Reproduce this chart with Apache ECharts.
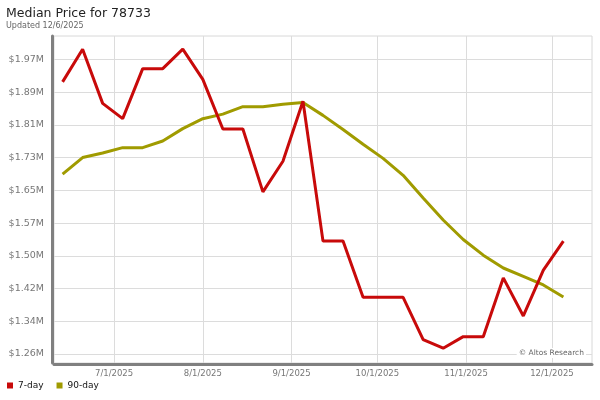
<!DOCTYPE html>
<html>
<head>
<meta charset="utf-8">
<script src="https://cdn.jsdelivr.net/npm/echarts@6/dist/echarts.min.js"></script>
<style>
html,body{margin:0;padding:0;background:#fff;}
#chart{width:600px;height:400px;}
</style>
</head>
<body>
<div id="chart"></div>
<script>
// ---- data ----
const dates = ['2025-06-13','2025-06-20','2025-06-27','2025-07-04','2025-07-11','2025-07-18','2025-07-25',
  '2025-08-01','2025-08-08','2025-08-15','2025-08-22','2025-08-29','2025-09-05','2025-09-12','2025-09-19',
  '2025-09-26','2025-10-03','2025-10-10','2025-10-17','2025-10-24','2025-10-31','2025-11-07','2025-11-14',
  '2025-11-21','2025-11-28','2025-12-05'];
const sevenDay = [1916000,1995000,1864000,1827000,1948000,1948000,1995000,1922000,1802000,1802000,1650000,
  1724000,1869000,1531000,1531000,1395000,1395000,1395000,1293000,1272000,1300000,1300000,1442000,1350000,
  1461000,1531000];
const ninetyDay = [1693000,1733000,1744000,1757000,1757000,1773000,1803000,1827000,1838000,1856000,1856000,
  1862000,1866000,1835000,1801000,1765000,1731000,1690000,1635000,1582000,1535000,1497000,1466000,1446000,
  1425000,1396000];
const yTickValues = [1258000,1337100,1416200,1495300,1574400,1653500,1732600,1811700,1890800,1969900];
const yTickLabels = ['$1.26M','$1.34M','$1.42M','$1.50M','$1.57M','$1.65M','$1.73M','$1.81M','$1.89M','$1.97M'];
const xTickDates = ['2025-07-01','2025-08-01','2025-09-01','2025-10-01','2025-11-01','2025-12-01'];
const xTickLabels = ['7/1/2025','8/1/2025','9/1/2025','10/1/2025','11/1/2025','12/1/2025'];
const seriesNames = ['7-day','90-day'];

function toTs(s){ const p = s.split('-').map(Number); return Date.UTC(p[0], p[1]-1, p[2]); }
const xTickTs = xTickDates.map(toTs);

function nearestLabel(v, vals, labels){
  let best=0, bd=Infinity;
  vals.forEach((t,i)=>{const d=Math.abs(t-v); if(d<bd){bd=d;best=i;}});
  return labels[best];
}

const chart = echarts.init(document.getElementById('chart'), null, {renderer:'canvas'});
const FONT = 'DejaVu Sans';
chart.setOption({
  animation:false,
  backgroundColor:'#fff',
  textStyle:{fontFamily:FONT},
  title:{
    text:'Median Price for 78733',
    subtext:'Updated 12/6/2025',
    left:6, top:7, padding:0, itemGap:2,
    textStyle:{fontFamily:FONT, fontSize:12.5, fontWeight:'normal', color:'#222'},
    subtextStyle:{fontFamily:FONT, fontSize:8, color:'#666'}
  },
  legend:{
    left:7, top:381, padding:0,
    icon:'rect', itemWidth:6, itemHeight:6, itemGap:13,
    textStyle:{fontFamily:FONT, fontSize:9, color:'#111'},
    data:seriesNames
  },
  grid:{left:54, right:8, top:36, bottom:37, show:true, borderColor:'#d8d8d8', borderWidth:1},
  xAxis:{
    type:'value',
    min:toTs('2025-06-10'), max:toTs('2025-12-15'),
    axisLine:{show:true, onZero:false, lineStyle:{color:'#808080', width:3}},
    offset:1,
    axisTick:{show:false, customValues:xTickTs},
    axisLabel:{customValues:xTickTs, color:'#777', fontSize:8.5, fontFamily:FONT, margin:5,
      formatter:function(v){ return nearestLabel(v, xTickTs, xTickLabels); }},
    splitLine:{show:true, lineStyle:{color:'#dcdcdc', width:1}}
  },
  yAxis:{
    type:'value',
    min:1236300, max:2026900,
    offset:2,
    axisLine:{show:true, onZero:false, lineStyle:{color:'#808080', width:3}},
    axisTick:{show:false, customValues:yTickValues},
    axisLabel:{customValues:yTickValues, color:'#777', fontSize:9.5, fontFamily:FONT, margin:8,
      formatter:function(v){ return nearestLabel(v, yTickValues, yTickLabels); }},
    splitLine:{show:true, lineStyle:{color:'#dcdcdc', width:1}}
  },
  series:[
    {name:seriesNames[0], type:'line', data:dates.map((d,i)=>[toTs(d), sevenDay[i]]),
      symbol:'none', color:'#c80a0a', lineStyle:{width:3, color:'#c80a0a'}, z:3},
    {name:seriesNames[1], type:'line', data:dates.map((d,i)=>[toTs(d), ninetyDay[i]]),
      symbol:'none', color:'#a09b00', lineStyle:{width:3, color:'#a09b00'}, z:2}
  ],
  graphic:[
    {type:'text', right:14, top:348, z:10,
      style:{text:'\u00a9 Altos Research', fill:'#666', font:'7.5px "DejaVu Sans"',
        backgroundColor:'#fff', padding:[1,2]}}
  ]
});
</script>
</body>
</html>
